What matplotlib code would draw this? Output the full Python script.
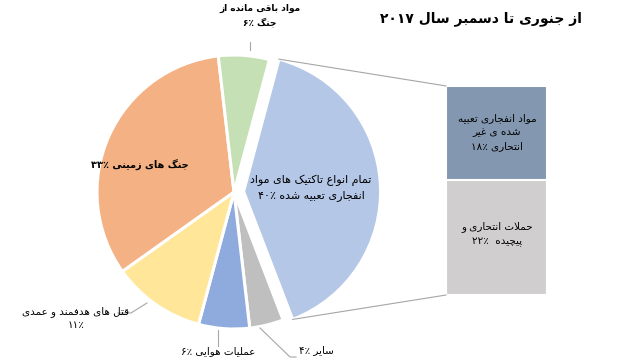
import matplotlib
matplotlib.use("Agg")
import matplotlib.pyplot as plt
import numpy as np

# ============================
# Data
# ============================
pie_names = ["تمام انواع تاکتیک های مواد|انفجاری تعبیه شده", "سایر", "عملیات هوایی",
             "قتل های هدفمند و عمدی|", "جنگ های زمینی", "مواد باقی مانده از|جنگ"]
pie_values = [40, 4, 6, 11, 33, 6]
pie_colors = ["#B4C7E7", "#BFBFBF", "#8FAADC", "#FFE699", "#F4B183", "#C5E0B4"]

bar_names = ["حملات انتحاری و|پیچیده ", "مواد انفجاری تعبیه|شده ی غیر|انتحاری"]
bar_values = [22, 18]
bar_colors = ["#D0CECE", "#8497B0"]

title = "از جنوری تا دسمبر سال 2017"

# ============================
# Minimal Persian shaping (presentation forms + visual order)
# ============================
FORMS = {
    'ا': ('\uFE8D', '\uFE8E', None, None),
    'آ': ('\uFE81', '\uFE82', None, None),
    'ب': ('\uFE8F', '\uFE90', '\uFE91', '\uFE92'),
    'پ': ('\uFB56', '\uFB57', '\uFB58', '\uFB59'),
    'ت': ('\uFE95', '\uFE96', '\uFE97', '\uFE98'),
    'ج': ('\uFE9D', '\uFE9E', '\uFE9F', '\uFEA0'),
    'چ': ('\uFB7A', '\uFB7B', '\uFB7C', '\uFB7D'),
    'ح': ('\uFEA1', '\uFEA2', '\uFEA3', '\uFEA4'),
    'د': ('\uFEA9', '\uFEAA', None, None),
    'ر': ('\uFEAD', '\uFEAE', None, None),
    'ز': ('\uFEAF', '\uFEB0', None, None),
    'س': ('\uFEB1', '\uFEB2', '\uFEB3', '\uFEB4'),
    'ش': ('\uFEB5', '\uFEB6', '\uFEB7', '\uFEB8'),
    'ع': ('\uFEC9', '\uFECA', '\uFECB', '\uFECC'),
    'غ': ('\uFECD', '\uFECE', '\uFECF', '\uFED0'),
    'ف': ('\uFED1', '\uFED2', '\uFED3', '\uFED4'),
    'ق': ('\uFED5', '\uFED6', '\uFED7', '\uFED8'),
    'ک': ('\uFB8E', '\uFB8F', '\uFB90', '\uFB91'),
    'گ': ('\uFB92', '\uFB93', '\uFB94', '\uFB95'),
    'ل': ('\uFEDD', '\uFEDE', '\uFEDF', '\uFEE0'),
    'م': ('\uFEE1', '\uFEE2', '\uFEE3', '\uFEE4'),
    'ن': ('\uFEE5', '\uFEE6', '\uFEE7', '\uFEE8'),
    'و': ('\uFEED', '\uFEEE', None, None),
    'ه': ('\uFEE9', '\uFEEA', '\uFEEB', '\uFEEC'),
    'ی': ('\uFBFC', '\uFBFD', '\uFBFE', '\uFBFF'),
}
FA_DIGITS = str.maketrans("0123456789%", "۰۱۲۳۴۵۶۷۸۹٪")
NUM_CHARS = set("۰۱۲۳۴۵۶۷۸۹٪")


def shape_line(s):
    s = s.replace('ي', 'ی').replace('ك', 'ک').translate(FA_DIGITS)
    out = []
    i = 0
    while i < len(s):
        c = s[i]
        if c not in FORMS:
            out.append(c)
            i += 1
            continue
        prev = s[i - 1] if i > 0 else ''
        joins_prev = prev in FORMS and FORMS[prev][2] is not None
        if c == 'ل' and i + 1 < len(s) and s[i + 1] == 'ا':
            out.append('\uFEFC' if joins_prev else '\uFEFB')
            i += 2
            continue
        nxt = s[i + 1] if i + 1 < len(s) else ''
        joins_next = FORMS[c][2] is not None and nxt in FORMS
        iso, fin, ini, med = FORMS[c]
        if joins_prev and joins_next:
            out.append(med)
        elif joins_prev:
            out.append(fin)
        elif joins_next:
            out.append(ini)
        else:
            out.append(iso)
        i += 1
    # visual order: reverse, keep number runs left-to-right
    vis = out[::-1]
    res = []
    run = []
    for ch in vis:
        if ch in NUM_CHARS:
            run.append(ch)
        else:
            res.extend(run[::-1])
            run = []
            res.append(ch)
    res.extend(run[::-1])
    return ''.join(res)


def fa(s):
    return '\n'.join(shape_line(line) for line in s.split('\n'))


def label_text(name, value):
    lines = name.split('|')
    if lines[-1] == '':
        lines[-1] = f"{value}%"
    else:
        lines[-1] = f"{lines[-1]} {value}%"
    return fa('\n'.join(lines))


# ============================
# Figure
# ============================
fig = plt.figure(figsize=(6.4, 3.6), dpi=100)
ax = fig.add_axes([0, 0, 1, 1])
R = 137.0
cx, cy = 234.0, 192.0

explode = [0.07, 0, 0, 0, 0, 0]
wedges, _ = ax.pie(
    pie_values,
    colors=pie_colors,
    startangle=75,
    counterclock=False,
    explode=explode,
    radius=1,
    wedgeprops=dict(edgecolor='white', linewidth=2.2),
)

# Bar of pie (stacked)
scale = 1.526 / 40
bar_x = 1.916
bar_w = 0.737
bar_bottom = -0.752
bottom = bar_bottom
for v, col in zip(bar_values, bar_colors):
    ax.bar(bar_x, v * scale, width=bar_w, bottom=bottom, color=col,
           edgecolor='white', linewidth=1.5)
    bottom += v * scale
bar_top = bottom

# Connector lines
w0 = wedges[0]
ox, oy = w0.center
t1 = np.deg2rad(w0.theta2)
t2 = np.deg2rad(w0.theta1)
ax.plot([ox + np.cos(t1), bar_x - bar_w / 2], [oy + np.sin(t1), bar_top],
        color='#A6A6A6', linewidth=0.8)
ax.plot([ox + np.cos(t2), bar_x - bar_w / 2], [oy + np.sin(t2), bar_bottom],
        color='#A6A6A6', linewidth=0.8)

# Leader lines for outside labels
leaders = [
    [(250, 42), (250, 50)],
    [(147, 303), (131, 313), (118, 313)],
    [(218, 330), (218, 346)],
    [(260, 328), (290, 357), (296, 357)],
]
for pts in leaders:
    xs = [(p[0] - cx) / R for p in pts]
    ys = [(cy - p[1]) / R for p in pts]
    ax.plot(xs, ys, color='#A6A6A6', linewidth=0.8)

ax.set_aspect('auto')
ax.set_xlim(-cx / R, (640 - cx) / R)
ax.set_ylim(-(360 - cy) / R, cy / R)
ax.axis('off')


def ftext(x, y, s, **kw):
    fig.text(x / 640, 1 - y / 360, s, ha='center', va='center', **kw)


ftext(481, 19, fa(title), fontsize=10, fontweight='bold')

ftext(311, 188, label_text(pie_names[0], pie_values[0]), fontsize=8, linespacing=1.5)
ftext(316, 350, label_text(pie_names[1], pie_values[1]), fontsize=7.5)
ftext(218, 351, label_text(pie_names[2], pie_values[2]), fontsize=7.5)
ftext(76, 318, label_text(pie_names[3], pie_values[3]), fontsize=7.5, linespacing=1.4)
ftext(140, 165, label_text(pie_names[4], pie_values[4]), fontsize=7, fontweight='bold')
ftext(260, 16, label_text(pie_names[5], pie_values[5]), fontsize=6.5, fontweight='bold', linespacing=1.5)

ftext(497, 234, label_text(bar_names[0], bar_values[0]), fontsize=7.5, linespacing=1.5)
ftext(497, 132, label_text(bar_names[1], bar_values[1]), fontsize=7.5, linespacing=1.5)

fig.savefig("out.png", dpi=100)
